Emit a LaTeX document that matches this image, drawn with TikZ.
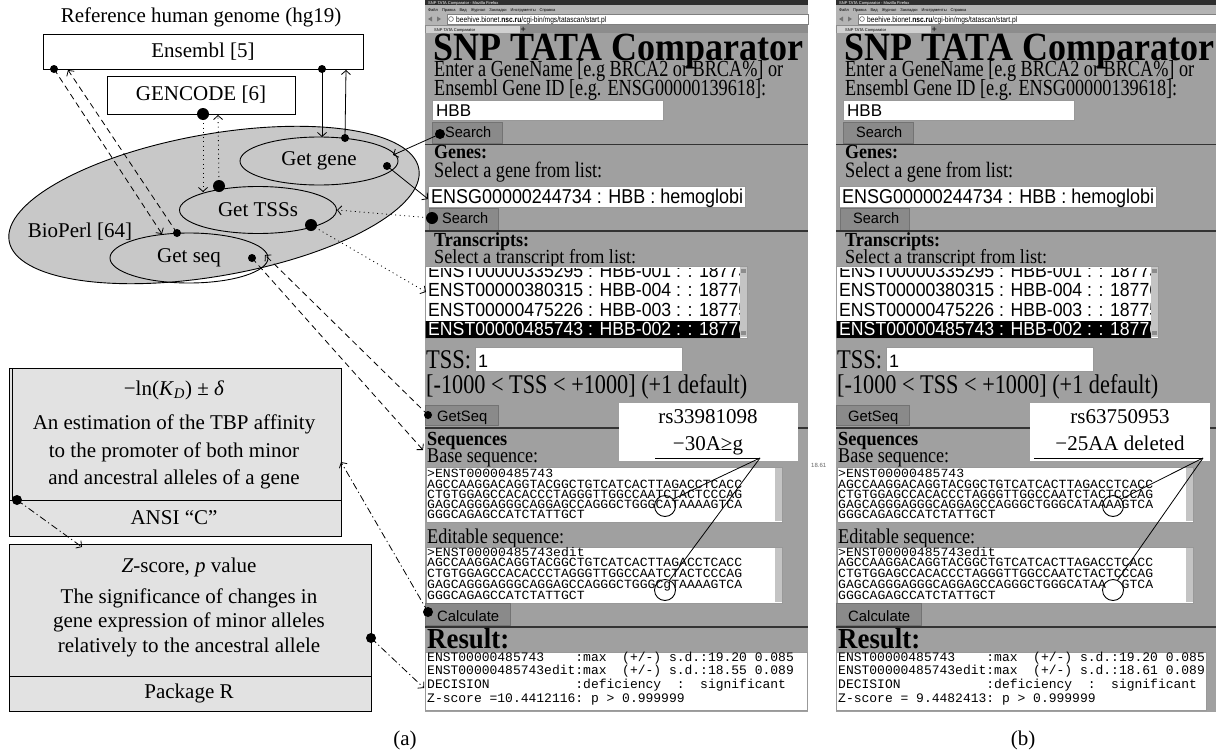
\documentclass[tikz,border=0pt]{standalone}
\usepackage{fontspec}
\setmainfont{Liberation Serif}
\newfontfamily\scrT{Liberation Serif}
\newfontfamily\scrS{Liberation Sans}
\newfontfamily\scrMa[FakeStretch=1.05]{Liberation Mono}
\newfontfamily\scrMb{Liberation Mono}
\usetikzlibrary{shapes.geometric,arrows.meta}
\definecolor{bioG}{HTML}{C8C8C8}
\definecolor{boxG}{HTML}{E2E2E2}
\definecolor{pageG}{HTML}{A0A0A0}
\definecolor{btnG}{HTML}{8A8A8A}
\definecolor{barG}{HTML}{2E2E2E}
\definecolor{menuG}{HTML}{B4B4B4}
\definecolor{sbG}{HTML}{C4C4C4}
\newcommand\hf[2]{\resizebox{#1}{\height}{#2}}
\newcommand\fs[1]{\fontsize{#1}{#1}\selectfont}
\tikzset{
  lnk/.style={line width=0.8pt},
  arr/.style={-{Straight Barb[length=4pt,width=9pt,line width=0.8pt]}},
  dsh/.style={dash pattern=on 6pt off 4pt},
  dtt/.style={dash pattern=on 1pt off 3.5pt},
  dsd/.style={dash pattern=on 7pt off 3pt on 1.2pt off 3pt},
  dotS/.style={circle,fill=black,minimum size=8pt,inner sep=0pt},
  dotM/.style={circle,fill=black,minimum size=10pt,inner sep=0pt},
  dotL/.style={circle,fill=black,minimum size=12pt,inner sep=0pt},
  lft/.style={font=\fs{21},inner sep=0pt},
  tb/.style 2 args={text height=#1pt,text depth=#2pt},
  txt/.style={anchor=base west,inner sep=0pt},
  mta/.style={anchor=base west,inner sep=0pt,font=\scrMa\fs{12.5},tb={8}{2}},
  mtb/.style={anchor=base west,inner sep=0pt,font=\scrMb\fs{13},tb={9}{3}},
  fld/.style={fill=white,draw=black!40,line width=0.5pt},
  btn/.style={fill=btnG,draw=black!55,line width=0.6pt},
  sepline/.style={draw=black!80,line width=1.6pt},
  circ/.style={circle,draw=black,line width=0.9pt,minimum size=21pt,inner sep=0pt},
}
% common part of a screenshot; #1 = name prefix, #2 = right edge of result box
\newcommand\shot[2]{%
\fill[pageG] (425,0) rectangle (808,712);
\fill[barG] (425,0) rectangle (808,5);
\node[txt,tb={3}{0.5},text=white,font=\scrS\fs{4}] (#1-bar) at (428,4) {SNP TATA Comparator - Mozilla Firefox};
\fill[menuG] (425,5) rectangle (808,25);
\node[txt,tb={3}{0.5},font=\scrS\fs{4}] (#1-menu) at (428,11) {Файл\quad Правка\quad Вид\quad Журнал\quad Закладки\quad Инструменты\quad Справка};
\fill[black!55] (428,19) -- (432,16.5) -- (432,21.5) -- cycle;
\fill[black!55] (441,19) -- (437,16.5) -- (437,21.5) -- cycle;
\draw[fill=white,draw=black!50,line width=0.4pt] (447,14) rectangle (808,24);
\draw[black!70,line width=0.5pt] (451,19) circle (2.4);
\node[txt,tb={6}{1.5}] (#1-url) at (456,22) {\hf{150pt}{\scrS\fs{8}beehive.bionet.\textbf{nsc.ru}/cgi-bin/mgs/tatascan/start.pl}};
\fill[black!45] (425,25) rectangle (808,33);
\fill[black!18] (426,26) rectangle (520,33);
\node[txt,tb={3}{0.5},font=\scrS\fs{4}] (#1-tab) at (434,31) {SNP TATA Comparator};
\node[txt,tb={5}{0},font=\scrS\fs{9}] (#1-plus) at (520.5,32.5) {+};
\node[txt,tb={27}{1}] (#1-title) at (433,60) {\hf{370pt}{\scrT\bfseries\fs{40}SNP TATA Comparator}};
\node[txt,tb={15}{3}] (#1-enter) at (434,76) {\hf{349pt}{\scrT\fs{23}Enter a GeneName [e.g BRCA2 or BRCA\%] or}};
\node[txt,tb={15}{3}] (#1-ensid) at (434,95) {\hf{332pt}{\scrT\fs{23}Ensembl Gene ID [e.g. ENSG00000139618]:}};
\draw[fld] (432,100) rectangle (663,120);
\node[txt,tb={12}{1},font=\scrS\fs{17}] (#1-hbb) at (436,116) {HBB};
\draw[btn] (432,122) rectangle (502,143);
\node[txt,tb={11}{1}] (#1-s1) at (445,137) {\hf{46pt}{\scrS\fs{15}Search}};
\draw[sepline] (425,144.5) -- (808,144.5);
\node[txt,tb={13}{1}] (#1-genes) at (434,158) {\hf{53pt}{\scrT\bfseries\fs{20}Genes:}};
\node[txt,tb={15}{3}] (#1-selg) at (434,177) {\hf{168pt}{\scrT\fs{22}Select a gene from list:}};
\draw[fld] (428,186) rectangle (745,207);
\node[txt,tb={14}{1}] (#1-gene) at (431,203) {\hf{312pt}{\scrS\fs{20}ENSG00000244734 : HBB : hemoglobi}};
\draw[btn] (429,208) rectangle (498,230);
\node[txt,tb={11}{1}] (#1-s2) at (442,223) {\hf{46pt}{\scrS\fs{15}Search}};
\draw[sepline] (425,231) -- (808,231);
\node[txt,tb={13}{1}] (#1-trs) at (434,246) {\hf{95pt}{\scrT\bfseries\fs{20}Transcripts:}};
\node[txt,tb={13}{2}] (#1-selt) at (434,263) {\hf{202pt}{\scrT\fs{20}Select a transcript from list:}};
\draw[fld] (425,266) rectangle (747,338);
\begin{scope}
\clip (425.5,268) rectangle (740,337.5);
\fill[black] (425,321) rectangle (742,338);
\node[txt,tb={13}{1}] (#1-r0) at (428,277) {\hf{320pt}{\scrS\fs{19}ENST00000335295 : HBB-001 : : 18773}};
\node[txt,tb={13}{1}] (#1-r1) at (428,296) {\hf{320pt}{\scrS\fs{19}ENST00000380315 : HBB-004 : : 18776}};
\node[txt,tb={13}{1}] (#1-r2) at (428,316) {\hf{320pt}{\scrS\fs{19}ENST00000475226 : HBB-003 : : 18775}};
\node[txt,tb={13}{1},text=white] (#1-r3) at (428,335) {\hf{320pt}{\scrS\fs{19}ENST00000485743 : HBB-002 : : 18776}};
\end{scope}
\fill[sbG] (740,267) rectangle (747,337);
\fill[black!45] (741,269) rectangle (746,273);
\fill[black!45] (741,331) rectangle (746,335);
\node[txt,tb={18}{1}] (#1-tss) at (426,368) {\hf{45pt}{\scrT\fs{27}TSS:}};
\draw[fld] (475,347) rectangle (682,371);
\node[txt,tb={13}{1},font=\scrS\fs{18}] (#1-one) at (478,367) {1};
\node[txt,tb={18}{5}] (#1-rng) at (426,393) {\hf{321pt}{\scrT\fs{27}[-1000 < TSS < +1000] (+1 default)}};
\draw[btn] (425,405) rectangle (498,425);
\node[txt,tb={11}{3}] (#1-gs) at (437,421) {\hf{50pt}{\scrS\fs{15}GetSeq}};
\draw[sepline] (425,428) -- (808,428);
\node[txt,tb={13}{3}] (#1-seqs) at (427,445) {\hf{80pt}{\scrT\bfseries\fs{20}Sequences}};
\node[txt,tb={13}{3}] (#1-bseq) at (427,462) {\hf{111pt}{\scrT\fs{21}Base sequence:}};
\draw[fld] (426,467) rectangle (782,522);
\fill[sbG] (775,468) rectangle (782,521);
\node[mta] (#1-b0) at (427,477) {>ENST00000485743};
\node[mta] (#1-b1) at (427,488) {AGCCAAGGACAGGTACGGCTGTCATCACTTAGACCTCACC};
\node[mta] (#1-b2) at (427,498) {CTGTGGAGCCACACCCTAGGGTTGGCCAATCTACTCCCAG};
\node[mta] (#1-b3) at (427,508) {GAGCAGGGAGGGCAGGAGCCAGGGCTGGGCATAAAAGTCA};
\node[mta] (#1-b4) at (427,518) {GGGCAGAGCCATCTATTGCT};
\node[txt,tb={14}{4}] (#1-eseq) at (427,543) {\hf{137pt}{\scrT\fs{21}Editable sequence:}};
\draw[fld] (426,547) rectangle (782,603);
\fill[sbG] (775,548) rectangle (782,602);
\node[mta] (#1-e0) at (427,556) {>ENST00000485743edit};
\node[mta] (#1-e1) at (427,566) {AGCCAAGGACAGGTACGGCTGTCATCACTTAGACCTCACC};
\node[mta] (#1-e2) at (427,577) {CTGTGGAGCCACACCCTAGGGTTGGCCAATCTACTCCCAG};
\node[mta] (#1-e4) at (427,599) {GGGCAGAGCCATCTATTGCT};
\draw[btn] (425,603) rectangle (510,625);
\node[txt,tb={11}{1}] (#1-calc) at (437,621) {\hf{62pt}{\scrS\fs{15}Calculate}};
\draw[sepline] (425,627) -- (808,627);
\node[txt,tb={19}{1}] (#1-res) at (427,648) {\hf{82pt}{\scrT\bfseries\fs{29}Result:}};
\draw[fld] (425,652) rectangle (#2,710);
\node[mtb] (#1-o1) at (427,661) {ENST00000485743\ \ \ \ :max\ \ (+/-)\ s.d.:19.20\ 0.085};
\node[mtb] (#1-o3) at (427,688) {DECISION\ \ \ \ \ \ \ \ \ \ \ :deficiency\ \ :\ \ significant};
}
\begin{document}
\begin{tikzpicture}[x=1pt,y=-1pt]
\useasboundingbox (0,0) rectangle (1216,755);
\fill[white] (0,0) rectangle (1216,755);
% ---------------- left diagram
\node[lft,anchor=base] (ref) at (201,22) {Reference human genome (hg19)};
\node[lft,draw,fill=white,line width=0.9pt,minimum width=320pt,minimum height=35pt] (ens) at (203,51.5) {Ensembl [5]};
\node[lft,draw,fill=white,line width=0.9pt,minimum width=188pt,minimum height=38pt] (gen) at (201,95) {GENCODE [6]};
\node[draw,fill=bioG,ellipse,line width=0.9pt,minimum width=416pt,minimum height=142pt,inner sep=0pt,rotate=10] (bio) at (214,205) {};
\node[lft,anchor=base] (biol) at (80,237) {BioPerl [64]};
\node[lft,draw,ellipse,line width=0.9pt,minimum width=158pt,minimum height=48pt] (gg) at (319,161) {Get gene};
\node[lft,draw,ellipse,line width=0.9pt,minimum width=157pt,minimum height=47pt] (gt) at (258,210) {Get TSSs};
\node[lft,draw,ellipse,line width=0.9pt,minimum width=158pt,minimum height=50pt] (gs) at (189,258) {Get seq};
% boxes
\node[draw,fill=boxG,line width=0.9pt,minimum width=332pt,minimum height=168pt,anchor=north west,inner sep=0pt] (aff) at (9,368) {};
\draw[line width=0.9pt] (9,500) -- (341,500);
\draw[line width=0.9pt] (12,368) -- (12,500);
\node[lft,tb={15}{5},anchor=base] (aff1) at (174,395) {−ln(\textit{K}\textsubscript{\textit{D}}) ± \textit{δ}};
\node[lft,tb={15}{5},anchor=base] (aff2) at (174,429) {An estimation of the TBP affinity};
\node[lft,tb={15}{5},anchor=base] (aff3) at (174,457) {to the promoter of both minor};
\node[lft,tb={15}{5},anchor=base] (aff4) at (174,484) {and ancestral alleles of a gene};
\node[lft,tb={15}{5},anchor=base] (aff5) at (174,524) {ANSI “C”};
\node[draw,fill=boxG,line width=0.9pt,minimum width=362pt,minimum height=167pt,anchor=north west,inner sep=0pt] (zb) at (9,544) {};
\draw[line width=0.9pt] (9,676) -- (371,676);
\node[lft,tb={15}{4.5},anchor=base] (zb1) at (189,572) {\textit{Z}-score, \textit{p} value};
\node[lft,tb={15}{4.5},anchor=base] (zb2) at (189,603) {The significance of changes in};
\node[lft,tb={15}{4.5},anchor=base] (zb3) at (189,627) {gene expression of minor alleles};
\node[lft,tb={15}{4.5},anchor=base] (zb4) at (189,652) {relatively to the ancestral allele};
\node[lft,tb={15}{4.5},anchor=base] (zb5) at (189,698) {Package R};
\node[lft,anchor=base] (capa) at (405,745) {(a)};
\node[lft,anchor=base] (capb) at (1023,745) {(b)};
% ---------------- screenshot (a)
\shot{a}{807}
\node[mta] (a-e3) at (427,588) {GAGCAGGGAGGGCAGGAGCCAGGGCTGGGCgTAAAAGTCA};
\node[mtb] (a-o2) at (427,674) {ENST00000485743edit:max\ \ (+/-)\ s.d.:18.55\ 0.089};
\node[mtb] (a-o4) at (427,702) {Z-score\ =10.4412116:\ p\ >\ 0.999999};
\node[fill=white,minimum width=179pt,minimum height=58pt,anchor=north west,inner sep=0pt] (a-call) at (619,403) {};
\node[lft,tb={15}{1},anchor=base] (a-c1) at (708,423) {rs33981098};
\node[lft,tb={15}{4},anchor=base] (a-c2) at (708,450) {−30A≥g};
\coordinate (a-u0) at (655,458);
\coordinate (a-u1) at (760,458);
\draw[lnk] (a-u0) -- (a-u1);
\node[circ] (a-k1) at (665,506) {};
\node[circ] (a-k2) at (665,590) {};
\draw[lnk] (a-u1) -- (a-k1.40);
\draw[lnk] (a-u1) -- (a-k2.65);
% ---------------- screenshot (b)
\begin{scope}[xshift=411pt]
\clip (0,0) rectangle (805,755);
\shot{b}{795}
\node[mta] (b-e3) at (427,588) {GAGCAGGGAGGGCAGGAGCCAGGGCTGGGCATAA\ \ GTCA};
\node[mtb] (b-o2) at (427,674) {ENST00000485743edit:max\ \ (+/-)\ s.d.:18.61\ 0.089};
\node[mtb] (b-o4) at (427,702) {Z-score\ =\ 9.4482413:\ p\ >\ 0.999999};
\node[fill=white,minimum width=180pt,minimum height=58pt,anchor=north west,inner sep=0pt] (b-call) at (619,403) {};
\node[lft,tb={15}{1},anchor=base] (b-c1) at (709,423) {rs63750953};
\node[lft,tb={15}{4},anchor=base] (b-c2) at (709,450) {−25AA deleted};
\coordinate (b-u0) at (623,458);
\coordinate (b-u1) at (792,458);
\draw[lnk] (b-u0) -- (b-u1);
\node[circ] (b-k1) at (702,506) {};
\node[circ] (b-k2) at (702,590) {};
\draw[lnk] (b-u1) -- (b-k1.40);
\draw[lnk] (b-u1) -- (b-k2.65);
\end{scope}
\node[txt,tb={4}{0.5},font=\scrS\fs{6},text=black!60] (art) at (811,467) {18.61};
% ---------------- connectors
\node[dotS] (d1) at (54,69) {};
\coordinate (t1) at (162,234);
\draw[lnk,dsh,arr] (d1.center) -- (t1);
\node[dotS] (d2) at (177,233) {};
\coordinate (t2) at (68,70);
\draw[lnk,dsh,arr] (d2.center) -- (t2);
\node[dotS] (d3) at (322,69) {};
\coordinate (t3) at (322,137);
\draw[lnk,arr] (d3.center) -- (t3);
\node[dotS] (d4) at (345,138) {};
\coordinate (t4) at (346,70);
\draw[lnk,arr] (d4.center) -- (t4);
\node[dotL] (d5) at (203,114) {};
\coordinate (t5) at (203,192);
\draw[lnk,dtt,arr] (d5.center) -- (t5);
\node[dotL] (d6) at (219,186) {};
\coordinate (t6) at (218,115);
\draw[lnk,dtt,arr] (d6.center) -- (t6);
\node[dotS] (d7) at (387,166) {};
\coordinate (t7) at (428,199);
\draw[lnk,arr] (d7.center) -- (t7);
\node[dotM] (d8) at (440,134) {};
\coordinate (t8) at (393,155);
\draw[lnk,arr] (d8.center) -- (t8);
\node[dotL] (d9) at (432,218) {};
\coordinate (t9) at (337,210);
\draw[lnk,dtt,arr] (d9.center) -- (t9);
\node[dotL] (d10) at (311,225) {};
\coordinate (t10) at (426,292);
\draw[lnk,dtt,arr] (d10.center) -- (t10);
\node[dotS] (d11) at (428,415) {};
\coordinate (t11) at (265,255);
\draw[lnk,dsh,arr] (d11.center) -- (t11);
\node[dotS] (d12) at (252,258) {};
\coordinate (t12) at (423,450);
\draw[lnk,dsh,arr] (d12.center) -- (t12);
\node[dotM] (d13) at (428,612) {};
\coordinate (t13) at (341,462);
\draw[lnk,dsd,arr] (d13.center) -- (t13);
\node[dotM] (d14) at (17,500) {};
\coordinate (t14) at (82,547);
\draw[lnk,dsd,arr] (d14.center) -- (t14);
\node[dotM] (d15) at (371,638) {};
\coordinate (t15) at (424,688);
\draw[lnk,dsd,arr] (d15.center) -- (t15);
\end{tikzpicture}
\end{document}
